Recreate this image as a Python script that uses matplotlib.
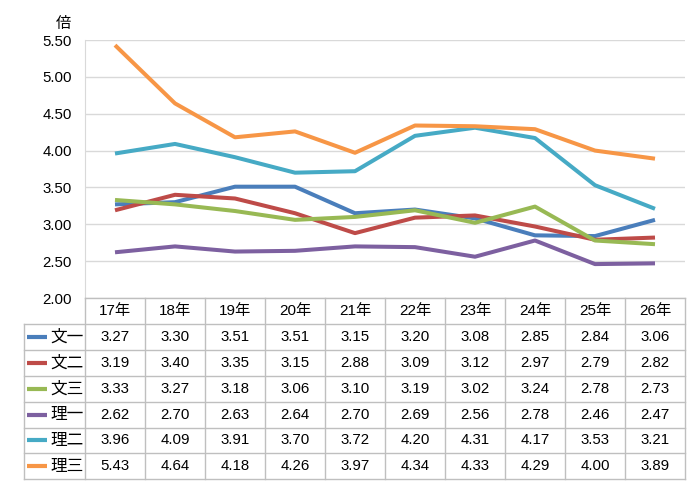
import matplotlib
matplotlib.use("Agg")
import matplotlib.pyplot as plt

plt.rcParams['font.family'] = ['Liberation Sans', 'Noto Sans CJK JP', 'DejaVu Sans']

years = ['17年', '18年', '19年', '20年', '21年', '22年', '23年', '24年', '25年', '26年']
series_names = ['文一', '文二', '文三', '理一', '理二', '理三']
bun1 = [3.27, 3.30, 3.51, 3.51, 3.15, 3.20, 3.08, 2.85, 2.84, 3.06]
bun2 = [3.19, 3.40, 3.35, 3.15, 2.88, 3.09, 3.12, 2.97, 2.79, 2.82]
bun3 = [3.33, 3.27, 3.18, 3.06, 3.10, 3.19, 3.02, 3.24, 2.78, 2.73]
ri1 = [2.62, 2.70, 2.63, 2.64, 2.70, 2.69, 2.56, 2.78, 2.46, 2.47]
ri2 = [3.96, 4.09, 3.91, 3.70, 3.72, 4.20, 4.31, 4.17, 3.53, 3.21]
ri3 = [5.43, 4.64, 4.18, 4.26, 3.97, 4.34, 4.33, 4.29, 4.00, 3.89]
yticks = [2.00, 2.50, 3.00, 3.50, 4.00, 4.50, 5.00, 5.50]

all_series = [bun1, bun2, bun3, ri1, ri2, ri3]
colors = ['#4A7EBB', '#BE4B48', '#98B954', '#7D60A0', '#46AAC5', '#F79646']

W, H = 690, 492
fig = plt.figure(figsize=(W / 100, H / 100), dpi=100)

def fx(px):
    return px / W

def fy(py):
    return 1 - py / H

left, right, top, bottom = 85, 685, 40, 298
ax = fig.add_axes([fx(left), fy(bottom), fx(right - left), (bottom - top) / H])
n = len(years)
xs = list(range(n))
for s, c in zip(all_series, colors):
    ax.plot(xs, s, color=c, lw=2.9, solid_capstyle='butt', zorder=3)
ax.set_xlim(-0.5, n - 0.5)
ax.set_ylim(2.0, 5.5)
ax.set_yticks(yticks)
ax.set_yticklabels([f'{v:.2f}' for v in yticks], fontsize=10.8)
ax.grid(axis='y', color='#D9D9D9', lw=1)
ax.set_xticks([])
for sp in ['top', 'right', 'bottom']:
    ax.spines[sp].set_visible(False)
ax.spines['left'].set_color('#D9D9D9')
ax.tick_params(axis='y', length=0, pad=9.5)
ax.set_axisbelow(True)
fig.text(fx(63), fy(24), '倍', fontsize=11, ha='center', va='center')

# table
tleft = 24
row_h = 25.9
tab_top = bottom
nrows = len(series_names) + 1
tab_bottom = tab_top + row_h * nrows
tax = fig.add_axes([fx(tleft), fy(tab_bottom), fx(right - tleft), (tab_bottom - tab_top) / H])
tax.axis('off')
label_w = (left - tleft) / ((right - left) / n)  # in column units
tax.set_xlim(-label_w, n)
tax.set_ylim(nrows, 0)
gc = '#BFBFBF'
tax.plot([0, n], [0, 0], color=gc, lw=1, clip_on=False)
for r in range(1, nrows + 1):
    tax.plot([-label_w, n], [r, r], color=gc, lw=1, clip_on=False)
tax.plot([-label_w, -label_w], [1, nrows], color=gc, lw=1, clip_on=False)
for cidx in range(n + 1):
    tax.plot([cidx, cidx], [0, nrows], color=gc, lw=1, clip_on=False)
for i, yl in enumerate(years):
    tax.text(i + 0.5, 0.5, yl, ha='center', va='center', fontsize=11)
for r, (name, s, c) in enumerate(zip(series_names, all_series, colors)):
    yy = r + 1.5
    tax.plot([-label_w + 0.05, -label_w + 0.39], [yy, yy], color=c, lw=3, solid_capstyle='butt')
    tax.text(-0.03, yy, name, ha='right', va='center', fontsize=12)
    for i, v in enumerate(s):
        tax.text(i + 0.5, yy, f'{v:.2f}', ha='center', va='center', fontsize=10.8)

fig.savefig('out.png', dpi=100)
